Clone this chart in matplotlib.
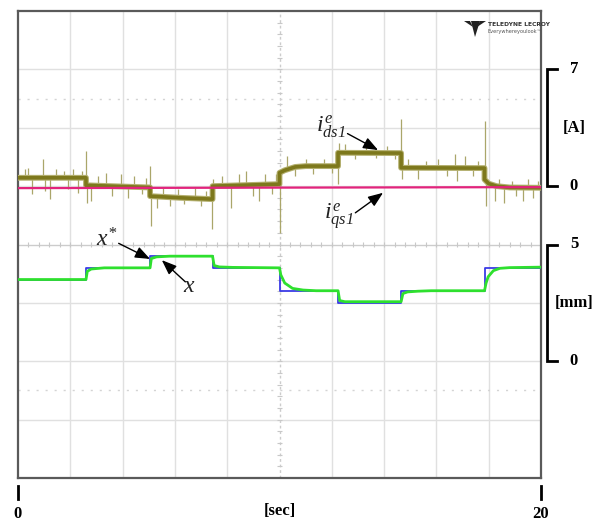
import numpy as np
import matplotlib
matplotlib.use("Agg")
import matplotlib.pyplot as plt
from matplotlib import transforms
from matplotlib.patches import Polygon

plt.rcParams["mathtext.fontset"] = "custom"
plt.rcParams["mathtext.rm"] = "Liberation Serif:italic"
plt.rcParams["mathtext.it"] = "Liberation Serif:italic"

# ---- d-axis current i_ds1^e [A] (step profile) ----
ids_t = [0, 2.6, 2.6, 5.05, 5.05, 6.2, 7.44, 7.44, 8.5, 10.0, 10.0, 10.2, 10.6, 11.0,
         12.24, 12.24, 14.65, 14.65, 17.84, 17.84, 18.0, 18.3, 18.8, 20]
ids_a = [0.5, 0.5, 0.05, -0.08, -0.6, -0.7, -0.78, 0.0, 0.05, 0.12, 0.8, 0.95, 1.15, 1.2,
         1.2, 2.0, 1.98, 1.1, 1.08, 0.4, 0.15, 0.0, -0.08, -0.1]

# spikes on the d-axis current: time [s], peak value [A]
spike_t = [0.25, 0.4, 0.55, 0.97, 1.05, 1.22, 1.45, 1.75, 1.9, 2.1, 2.3, 2.45,
           2.6, 2.63,
           2.8, 3.05, 3.35, 3.6, 3.95, 4.2, 4.45, 4.75, 4.9,
           5.05, 5.08,
           5.3, 5.55, 5.8, 6.1, 6.35, 6.77, 7.0, 7.2,
           7.42, 7.46,
           7.8, 8.15, 8.45, 8.7, 9.0, 9.2, 9.45, 9.7, 9.85,
           10.0,
           10.3, 10.6, 11.0, 11.3, 11.7, 12.0,
           12.24, 12.27,
           12.5, 12.9, 13.3, 13.7, 14.1, 14.4,
           14.65, 14.68,
           14.9, 15.3, 15.6, 16.05, 16.4, 16.7, 16.8, 17.1, 17.4, 17.6,
           17.84, 17.88,
           18.25, 18.4, 18.6, 18.9, 19.05, 19.3, 19.5, 19.7, 19.9]
spike_a = [1.0, 1.1, -0.5, 1.6, -0.3, -0.8, 1.0, 0.9, -0.2, 1.0, -0.4, 0.9,
           2.1, -1.0,
           -0.9, 0.6, 0.8, -0.6, 0.7, -0.7, 0.6, -0.5, 0.5,
           1.2, -2.4,
           -1.3, -0.1, -1.2, -0.2, -1.1, -0.1, -1.2, -0.3,
           -2.6, 0.4,
           0.6, -1.3, 0.7, 0.9, -0.6, -0.9, 0.7, -0.5, 0.7,
           -2.8,
           1.8, 0.6, 1.6, 0.7, 1.6, 0.8,
           0.1, 2.6,
           2.5, 1.6, 2.4, 1.7, 2.4, 1.6,
           4.0, 0.4,
           1.6, 0.4, 1.5, 1.6, 0.6, 1.9, 0.3, 1.8, 0.6, 1.5,
           3.9, -1.2,
           -0.9, 0.4, -1.0, 0.3, -0.6, -0.9, 0.4, -0.7, 0.3]

# ---- q-axis current i_qs1^e [A] ----
iqs_t = [0, 20]
iqs_a = [-0.12, -0.06]

# ---- position reference x* [mm] ----
ref_t = [0, 2.6, 5.05, 7.44, 10.0, 12.24, 14.65, 17.84, 20]
ref_mm = [3.5, 4.0, 4.5, 4.0, 3.0, 2.5, 3.0, 4.0, 4.0]

# ---- measured position x [mm] ----
pos_t = [0, 2.6, 2.65, 2.8, 3.3, 5.05, 5.1, 5.3, 5.8, 7.44, 7.5, 7.7, 8.2,
         10.0, 10.05, 10.2, 10.5, 10.9, 11.4, 12.24, 12.3, 12.5,
         14.65, 14.72, 14.9, 15.3, 15.8, 17.84, 17.9, 17.98, 18.18, 18.43, 18.8, 20]
pos_mm = [3.5, 3.5, 3.85, 3.95, 4.0, 4.0, 4.4, 4.47, 4.5, 4.5, 4.1, 4.04, 4.02,
          4.0, 3.7, 3.35, 3.12, 3.05, 3.02, 3.02, 2.6, 2.55,
          2.55, 2.9, 2.97, 3.0, 3.02, 3.02, 3.35, 3.62, 3.88, 3.98, 4.01, 4.03]

W, H = 603, 521
fig = plt.figure(figsize=(W / 100, H / 100), dpi=100)
fig.patch.set_facecolor("white")

L, R, T, B = 18, 541, 11, 478
rect = [L / W, 1 - B / H, (R - L) / W, (B - T) / H]

# scope graticule: 10 x 8 divisions, 2 s/div
ax = fig.add_axes(rect)
ax.set_xlim(0, 20)
ax.set_ylim(0, 8)
ax.set_xticks([])
ax.set_yticks([])
for s in ax.spines.values():
    s.set_color("#5a5a5a")
    s.set_linewidth(1.6)
grid_c = "#e0e0e0"
for k in range(1, 10):
    if k == 5:
        ax.axvline(2 * k, color="#cccccc", lw=1.0, ls=(0, (2, 2)))
    else:
        ax.axvline(2 * k, color=grid_c, lw=1.0)
for k in range(1, 8):
    if k == 4:
        ax.axhline(k, color="#cccccc", lw=1.0)
    else:
        ax.axhline(k, color=grid_c, lw=1.0)
ax.axhline(6.5, color="#d4d4d4", lw=1.0, ls=(0, (1.5, 5)))
ax.axhline(1.5, color="#d4d4d4", lw=1.0, ls=(0, (1.5, 5)))
# minor tick marks on the centre axes
mt = np.arange(0, 20.01, 0.4)
ax.vlines(mt, 3.95, 4.05, color="#c8c8c8", lw=0.8)
my = np.arange(0, 8.01, 0.2)
ax.hlines(my, 9.9, 10.1, color="#c8c8c8", lw=0.8)

# current axes: 3.5 A/div, 0 A at division 5
ax_i = fig.add_axes(rect, frameon=False)
ax_i.set_xlim(0, 20)
ax_i.set_ylim(-5 * 3.5, 3 * 3.5)
ax_i.set_xticks([])
ax_i.set_yticks([])

olive = "#7d781c"
base = np.interp(spike_t, ids_t, ids_a)
ax_i.vlines(spike_t, base, spike_a, color="#aaa66a", lw=0.9)
ax_i.plot(ids_t, ids_a, color="#b3af6e", lw=4.2, solid_capstyle="butt")
ax_i.plot(ids_t, ids_a, color=olive, lw=2.6, solid_capstyle="butt")
ax_i.plot(iqs_t, iqs_a, color="#e2237c", lw=1.6)

# position axes: 2.5 mm/div, 0 mm at division 2
ax_x = fig.add_axes(rect, frameon=False)
ax_x.set_xlim(0, 20)
ax_x.set_ylim(-2 * 2.5, 6 * 2.5)
ax_x.set_xticks([])
ax_x.set_yticks([])
ax_x.step(ref_t, ref_mm, where="post", color="#3a3ae6", lw=1.3)
ax_x.plot(pos_t, pos_mm, color="#2ee02e", lw=2.0)

# trace labels with arrows
lab_kw = dict(fontsize=17, color="#222222", ha="left", va="baseline")
arr = dict(arrowstyle="-|>,head_length=0.9,head_width=0.35", color="black", lw=1.0,
           shrinkA=0, shrinkB=0)
ax_i.text(11.4, 3.25, r"$i_{ds1}^{e}$", **lab_kw)
ax_i.annotate("", xy=(13.77, 2.16), xytext=(12.6, 3.15), arrowprops=arr)
ax_i.text(11.72, -2.05, r"$i_{qs1}^{e}$", **lab_kw)
ax_i.annotate("", xy=(13.96, -0.4), xytext=(12.9, -1.6), arrowprops=arr)
ax_x.text(3.0, 4.9, r"$x^{*}$", **lab_kw)
ax_x.annotate("", xy=(5.05, 4.38), xytext=(3.85, 5.05), arrowprops=arr)
ax_x.text(6.3, 2.97, r"$x$", **lab_kw)
ax_x.annotate("", xy=(5.5, 4.33), xytext=(6.4, 3.4), arrowprops=arr)

# scale brackets on the right
bold = dict(family="Liberation Serif", fontweight="bold", fontsize=12, color="black")
bx0 = (547 - L) / (R - L)
bx1 = (557 - L) / (R - L)
tx = (574 - L) / (R - L)
for axis, lo, hi, unit in ((ax_i, 0, 7, "[A]"), (ax_x, 0, 5, "[mm]")):
    tr = transforms.blended_transform_factory(axis.transAxes, axis.transData)
    axis.plot([bx1, bx0, bx0, bx1], [hi, hi, lo, lo], color="black", lw=2.0,
              transform=tr, clip_on=False, solid_joinstyle="miter")
    axis.text(tx, hi, str(hi), transform=tr, ha="center", va="center", **bold)
    axis.text(tx, lo, str(lo), transform=tr, ha="center", va="center", **bold)
    axis.text(tx, (hi + lo) / 2, unit, transform=tr, ha="center", va="center", **bold)

# time axis marks
trt = transforms.blended_transform_factory(ax.transData, ax.transAxes)
y0 = -(486 - B) / (B - T)
y1 = -(499 - B) / (B - T)
ax.plot([0, 0], [y0, y1], color="black", lw=2.0, transform=trt, clip_on=False)
ax.plot([20, 20], [y0, y1], color="black", lw=2.0, transform=trt, clip_on=False)
yl = -(514 - B) / (B - T)
ax.text(0, yl, "0", transform=trt, ha="center", va="center", **bold)
ax.text(20, yl, "20", transform=trt, ha="center", va="center", **bold)
ax.text(10, yl + 0.006, "[sec]", transform=trt, ha="center", va="center", **bold)

# instrument logo
fig.text(488 / W, 1 - 24 / H, "TELEDYNE LECROY", fontsize=4.3, fontweight="bold",
         color="#333333", ha="left", va="center", family="Liberation Sans Narrow")
fig.text(488 / W, 1 - 31 / H, "Everywhereyoulook\u2122", fontsize=3.6,
         color="#555555", ha="left", va="center", family="Liberation Sans Narrow")
for px in ([464, 21, 470, 21, 473, 27], [471, 21, 480, 21, 475, 37], [480, 21, 486, 21, 477, 27]):
    pts = [(px[0] / W, 1 - px[1] / H), (px[2] / W, 1 - px[3] / H), (px[4] / W, 1 - px[5] / H)]
    fig.patches.append(Polygon(pts, closed=True, transform=fig.transFigure,
                               color="#222222", lw=0))

fig.savefig("out.png", dpi=100, facecolor="white")
